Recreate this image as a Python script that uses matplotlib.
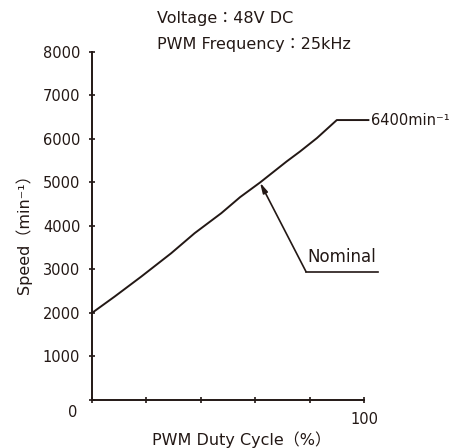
import matplotlib.pyplot as plt

plt.rcParams['font.family'] = ['DejaVu Sans', 'Noto Sans CJK JP']

ink = '#231815'

# speed curve
duty = [0, 8.3, 18.1, 29.1, 37.7, 47.5, 54.4, 61.7, 71.5, 76.4, 82.6, 89.9, 101.5]
speed = [2000, 2375, 2835, 3372, 3832, 4292, 4660, 4995, 5480, 5708, 6016, 6430, 6430]

xticks = [0, 20, 40, 60, 80, 100]
xticklabels = ['', '', '', '', '', '100']
yticks = [0, 1000, 2000, 3000, 4000, 5000, 6000, 7000, 8000]
yticklabels = ['', '1000', '2000', '3000', '4000', '5000', '6000', '7000', '8000']

# nominal leader: tip on the curve, knee, end of underline
nominal_tip = (61.7, 4995)
nominal_knee = (78.6, 2947)
nominal_end = 105.2

fig = plt.figure(figsize=(4.62, 4.48), dpi=100)
ax = fig.add_axes([92 / 462, 1 - 400 / 448, (364.3 - 92) / 462, (400 - 51.7) / 448])

ax.plot(duty, speed, color=ink, lw=1.4, clip_on=False, solid_joinstyle='round')

ax.set_xlim(0, 100)
ax.set_ylim(0, 8000)
ax.set_xticks(xticks)
ax.set_xticklabels(xticklabels)
ax.set_yticks(yticks)
ax.set_yticklabels(yticklabels)

for s in ['top', 'right']:
    ax.spines[s].set_visible(False)
for s in ['left', 'bottom']:
    ax.spines[s].set_color(ink)
    ax.spines[s].set_linewidth(1.4)

ax.tick_params(direction='inout', length=5, width=1.2, color=ink,
               labelcolor=ink, labelsize=10.5, pad=6)

# shared origin label
ax.annotate('0', xy=(0, 0), xytext=(-19, -12), textcoords='offset pixels',
            ha='center', va='center', fontsize=10.5, color=ink)

# max speed label
ax.text(102.6, 6430, '6400min⁻¹', ha='left', va='center', fontsize=10.5,
        color=ink, clip_on=False)

# nominal arrow
ax.annotate('', xy=nominal_tip, xytext=nominal_knee,
            arrowprops=dict(arrowstyle='-|>,head_length=0.6,head_width=0.15',
                            color=ink, lw=1.2, shrinkA=0, shrinkB=0))
ax.plot([nominal_knee[0], nominal_end], [nominal_knee[1], nominal_knee[1]],
        color=ink, lw=1.2, clip_on=False)
ax.text(79.2, nominal_knee[1] + 120, 'Nominal', ha='left', va='bottom',
        fontsize=12, color=ink, clip_on=False)

# header notes
fig.text(157 / 462, 1 - 19 / 448, 'Voltage：48V DC', ha='left', va='center',
         fontsize=11.5, color=ink)
fig.text(157 / 462, 1 - 45 / 448, 'PWM Frequency：25kHz', ha='left', va='center',
         fontsize=11.5, color=ink)

fig.text(242 / 462, 1 - 440 / 448, 'PWM Duty Cycle（%）', ha='center', va='center',
         fontsize=11.5, color=ink)
fig.text(24 / 462, 1 - 230 / 448, 'Speed（min⁻¹）', ha='center', va='center',
         rotation=90, fontsize=11.5, color=ink)

fig.savefig('out.png', dpi=100)
